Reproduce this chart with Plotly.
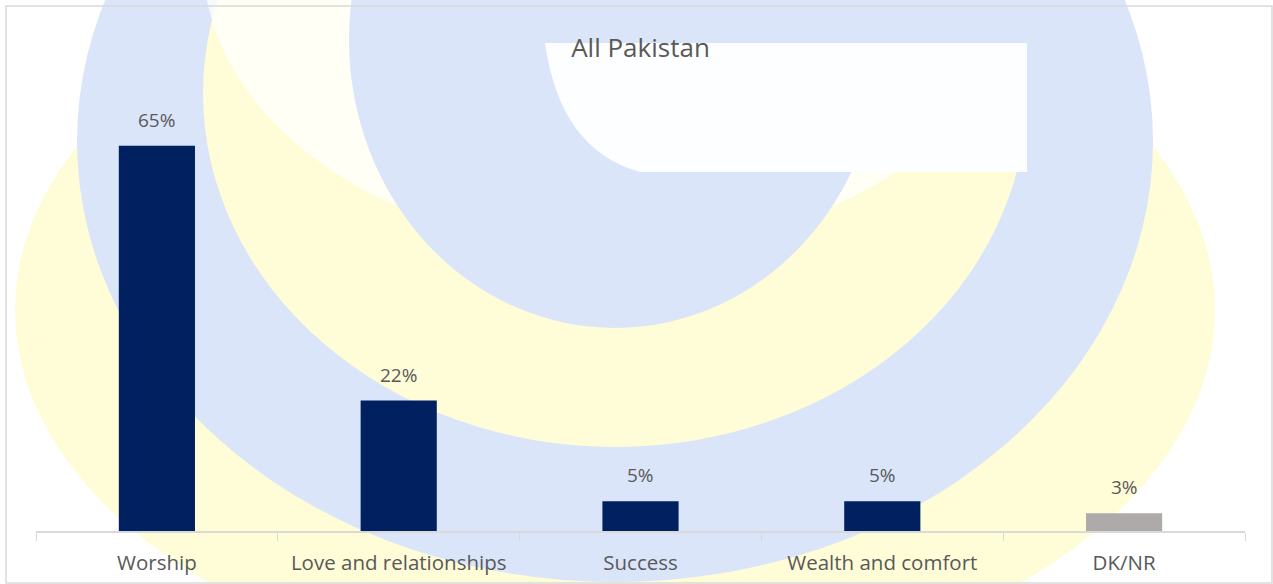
import plotly.graph_objects as go

categories = ["Worship", "Love and relationships", "Success", "Wealth and comfort", "DK/NR"]
values = [65, 22, 5, 5, 3]
labels = ["65%", "22%", "5%", "5%", "3%"]
colors = ["#002060", "#002060", "#002060", "#002060", "#AEAAAA"]

W, H = 1273, 584
L, R, T, B = 36, 28, 116, 53
PW, PH = W - L - R, H - T - B
FONT = "Open Sans"
GREY = "#595959"

fig = go.Figure()
fig.add_trace(go.Bar(x=categories, y=values, marker_color=colors, width=0.315,
                     marker_line_width=0, hoverinfo="skip"))

for c, v, t in zip(categories, values, labels):
    fig.add_annotation(x=c, y=v, text=t, showarrow=False, yanchor="middle", yshift=26,
                       font=dict(size=19, color=GREY, family=FONT))


def px(x, y):
    return (x - L) / PW, (H - B - y) / PH


def ell(x0, y0, x1, y1, color):
    a, b = px(x0, y1)
    c, d = px(x1, y0)
    return dict(type="circle", xref="paper", yref="paper", x0=a, y0=b, x1=c, y1=d,
                fillcolor=color, line=dict(width=0), layer="below")


def rect(x0, y0, x1, y1, color, line=None):
    a, b = px(x0, y1)
    c, d = px(x1, y0)
    return dict(type="rect", xref="paper", yref="paper", x0=a, y0=b, x1=c, y1=d,
                fillcolor=color, line=line or dict(width=0), layer="below")


def path(cmds, color):
    out = []
    for cmd in cmds:
        op, pts = cmd[0], cmd[1:]
        s = op
        for (x, y) in pts:
            a, b = px(x, y)
            s += f" {a:.5f},{b:.5f}"
        out.append(s)
    return dict(type="path", xref="paper", yref="paper", path=" ".join(out) + " Z",
                fillcolor=color, line=dict(width=0), layer="below")


BLUE = "rgb(218,229,249)"
YEL = "rgb(255,253,216)"
shapes = [
    # faint watermark logo (approximation)
    ell(15, -60, 1215, 680, YEL),
    ell(77, -300, 1153, 582, BLUE),
    ell(203, -260, 1027, 447, YEL),
    ell(203, -330, 1027, 250, "rgba(255,255,255,0.75)"),
    ell(349, -248, 881, 328, BLUE),
    rect(545, -10, 1040, 43, BLUE),
    path([("M", (545, 43)), ("Q", (560, 150), (640, 172)), ("L", (1027, 172)),
          ("L", (1027, 43))], "rgb(253,254,255)"),
    # chart border
    rect(6, 6, 1272, 583, "rgba(0,0,0,0)", dict(color="#D9D9D9", width=1.5)),
]

fig.update_layout(
    width=W, height=H,
    margin=dict(l=L, r=R, t=T, b=B, autoexpand=False),
    paper_bgcolor="white", plot_bgcolor="rgba(0,0,0,0)",
    title=dict(text="All Pakistan", x=0.5, xref="paper", xanchor="center", y=1 - 48 / H,
               yanchor="middle", font=dict(size=26, color=GREY, family=FONT)),
    showlegend=False,
    shapes=shapes,
    xaxis=dict(showline=True, linecolor="#D9D9D9", linewidth=1.5, ticks="outside",
               tickson="boundaries", ticklen=8, tickcolor="#D9D9D9", ticklabelstandoff=13,
               automargin=False,
               tickfont=dict(size=20.5, color=GREY, family=FONT), showgrid=False),
    yaxis=dict(range=[0, 70], visible=False, showgrid=False, automargin=False),
)

fig.write_html("out.html", config={"displayModeBar": False},
               post_script="document.body.style.margin='0';document.body.style.padding='0';")
